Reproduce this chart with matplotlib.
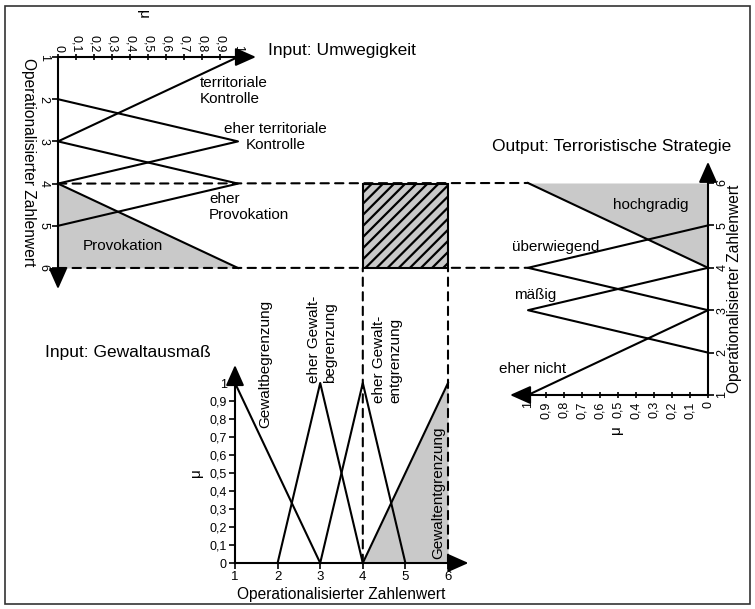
import matplotlib
matplotlib.use("Agg")
import matplotlib.pyplot as plt
from matplotlib.patches import ConnectionPatch, Rectangle
from matplotlib.transforms import blended_transform_factory

plt.rcParams["font.family"] = ["Liberation Sans", "DejaVu Sans"]
plt.rcParams["hatch.linewidth"] = 1.6

# ---------- data ----------
levels = [1, 2, 3, 4, 5, 6]
level_labels = ["1", "2", "3", "4", "5", "6"]
mu_ticks = [0, 0.1, 0.2, 0.3, 0.4, 0.5, 0.6, 0.7, 0.8, 0.9, 1]
mu_labels = ["0", "0,1", "0,2", "0,3", "0,4", "0,5", "0,6", "0,7", "0,8", "0,9", "1"]

# Input: Umwegigkeit (value points, membership points)
umweg_names = ["territoriale\nKontrolle", "eher territoriale\nKontrolle",
               "eher\nProvokation", "Provokation"]
umweg_x = [[1, 3], [2, 3, 4], [3, 4, 5], [4, 6]]
umweg_mu = [[1, 0], [0, 1, 0], [0, 1, 0], [0, 1]]

# Input: Gewaltausmass
gewalt_names = ["Gewaltbegrenzung", "eher Gewalt-\nbegrenzung",
                "eher Gewalt-\nentgrenzung", "Gewaltentgrenzung"]
gewalt_x = [[1, 3], [2, 3, 4], [3, 4, 5], [4, 6]]
gewalt_mu = [[1, 0], [0, 1, 0], [0, 1, 0], [0, 1]]

# Output: Terroristische Strategie
strat_names = ["eher nicht", "mäßig", "überwiegend", "hochgradig"]
strat_x = [[1, 3], [2, 3, 4], [3, 4, 5], [4, 6]]
strat_mu = [[1, 0], [0, 1, 0], [0, 1, 0], [0, 1]]

# activated ranges
umweg_range = [4, 6]
gewalt_range = [4, 6]
strat_range = [4, 6]

GRAY = "#c9c9c9"
LW = 1.5
DASH = (0, (4, 3))
W, H = 755, 609


def px_rect(x0, y0, x1, y1):
    return [x0 / W, 1 - y1 / H, (x1 - x0) / W, (y1 - y0) / H]


def px_text(x, y, s, **kw):
    fig.text(x / W, 1 - y / H, s, **kw)


def arrow(ax, start, end):
    ax.annotate("", xy=end, xytext=start, xycoords="data",
                arrowprops=dict(arrowstyle="-|>,head_length=0.9,head_width=0.4",
                                color="k", lw=LW, shrinkA=0, shrinkB=0,
                                mutation_scale=14),
                annotation_clip=False)


def base_axes(rect, show):
    ax = fig.add_axes(rect)
    ax.patch.set_visible(False)
    for name, sp in ax.spines.items():
        sp.set_visible(name in show)
        sp.set_linewidth(LW)
    return ax


fig = plt.figure(figsize=(W / 100, H / 100), dpi=100)

# ---------- top left: Umwegigkeit ----------
ax_u = base_axes(px_rect(58, 57, 238, 268), ("top", "left"))
ax_u.set_xlim(0, 1)
ax_u.set_ylim(6, 1)
ax_u.xaxis.tick_top()
ax_u.set_xticks(mu_ticks, mu_labels, rotation=-90, fontsize=9)
ax_u.set_yticks(levels, level_labels, rotation=-90, fontsize=9, va="center")
ax_u.tick_params(axis="x", direction="inout", length=5, width=1.2, pad=1)
ax_u.tick_params(axis="y", direction="out", length=4, width=1.2, pad=2)
ax_u.set_ylabel("Operationalisierter Zahlenwert", rotation=-90, fontsize=11.2,
                va="center")
ax_u.yaxis.set_label_coords(-0.165, 0.5)
ax_u.text(0.47, 1.2, "μ", rotation=-90, fontsize=11, ha="center", va="center",
          transform=ax_u.transAxes)
arrow(ax_u, (1, 1), (1.1, 1))
arrow(ax_u, (0, 6), (0, 6.5))
ax_u.fill_betweenx(umweg_x[3], 0, umweg_mu[3], color=GRAY, lw=0)
for xs, ms in zip(umweg_x, umweg_mu):
    ax_u.plot(ms, xs, color="k", lw=LW, clip_on=False)
ax_u.text(0.79, 1.8, umweg_names[0], fontsize=11, ha="left", va="center")
ax_u.text(1.21, 2.9, umweg_names[1], fontsize=11, ha="center", va="center",
          multialignment="center")
ax_u.text(0.84, 4.55, umweg_names[2], fontsize=11, ha="left", va="center")
ax_u.text(0.14, 5.48, umweg_names[3], fontsize=11, ha="left", va="center")

# ---------- right: Terroristische Strategie ----------
ax_s = base_axes(px_rect(528, 183, 708, 395), ("bottom", "right"))
ax_s.set_xlim(1, 0)
ax_s.set_ylim(1, 6)
ax_s.yaxis.tick_right()
ax_s.set_xticks(mu_ticks, mu_labels, rotation=90, fontsize=9)
ax_s.set_yticks(levels, level_labels, rotation=90, fontsize=9, va="center")
ax_s.tick_params(axis="x", direction="inout", length=5, width=1.2, pad=2)
ax_s.tick_params(axis="y", direction="out", length=4, width=1.2, pad=2)
ax_s.yaxis.set_label_position("right")
ax_s.set_ylabel("Operationalisierter Zahlenwert", rotation=90, fontsize=11.2,
                va="center")
ax_s.yaxis.set_label_coords(1.15, 0.5)
ax_s.text(0.49, -0.165, "μ", rotation=90, fontsize=11, ha="center", va="center",
          transform=ax_s.transAxes)
arrow(ax_s, (0, 6), (0, 6.5))
arrow(ax_s, (1, 1), (1.1, 1))
ax_s.fill_betweenx(strat_x[3], 0, strat_mu[3], color=GRAY, lw=0)
for xs, ms in zip(strat_x, strat_mu):
    ax_s.plot(ms, xs, color="k", lw=LW, clip_on=False)
ax_s.text(1.16, 1.62, strat_names[0], fontsize=11, ha="left", va="center")
ax_s.text(1.08, 3.35, strat_names[1], fontsize=11, ha="left", va="center")
ax_s.text(1.09, 4.5, strat_names[2], fontsize=11, ha="left", va="center")
ax_s.text(0.53, 5.48, strat_names[3], fontsize=11, ha="left", va="center")

# ---------- bottom: Gewaltausmass ----------
ax_g = base_axes(px_rect(235, 383, 448, 563), ("bottom", "left"))
ax_g.set_xlim(1, 6)
ax_g.set_ylim(0, 1)
ax_g.set_xticks(levels, level_labels, fontsize=9.5)
ax_g.set_yticks(mu_ticks, mu_labels, fontsize=9)
ax_g.tick_params(axis="both", direction="out", length=4, width=1.2, pad=2)
ax_g.set_xlabel("Operationalisierter Zahlenwert", fontsize=11.2)
ax_g.xaxis.set_label_coords(0.5, -0.135)
ax_g.set_ylabel("μ", rotation=90, fontsize=11)
ax_g.yaxis.set_label_coords(-0.15, 0.5)
arrow(ax_g, (6, 0), (6.48, 0))
arrow(ax_g, (1, 1), (1, 1.1))
ax_g.fill_between(gewalt_x[3], 0, gewalt_mu[3], color=GRAY, lw=0)
for xs, ms in zip(gewalt_x, gewalt_mu):
    ax_g.plot(xs, ms, color="k", lw=LW, clip_on=False)
ax_g.text(1.7, 0.75, gewalt_names[0], rotation=90, fontsize=11,
          ha="center", va="bottom")
ax_g.text(3.04, 1.0, gewalt_names[1], rotation=90, fontsize=11,
          ha="center", va="bottom", multialignment="left")
ax_g.text(4.57, 0.89, gewalt_names[2], rotation=90, fontsize=11,
          ha="center", va="bottom", multialignment="left")
ax_g.text(5.77, 0.02, gewalt_names[3], rotation=90, fontsize=11,
          ha="center", va="bottom")

# ---------- inference: dashed projections and hatched result ----------
blend = blended_transform_factory(ax_g.transData, ax_u.transData)
for vu, vs in zip(umweg_range, strat_range[::-1]):
    fig.add_artist(ConnectionPatch(xyA=(0, vu), coordsA=ax_u.transData,
                                   xyB=(1, vs), coordsB=ax_s.transData,
                                   color="k", lw=LW, linestyle=DASH))
for g in gewalt_range:
    fig.add_artist(ConnectionPatch(xyA=(g, 0), coordsA=ax_g.transData,
                                   xyB=(g, umweg_range[1]), coordsB=blend,
                                   color="k", lw=LW, linestyle=DASH))
fig.add_artist(Rectangle((gewalt_range[0], umweg_range[0]),
                         gewalt_range[1] - gewalt_range[0],
                         umweg_range[1] - umweg_range[0],
                         transform=blend, facecolor=GRAY, edgecolor="k",
                         hatch="///", lw=LW, zorder=5))

# ---------- titles and frame ----------
px_text(268, 51, "Input: Umwegigkeit", fontsize=12.5, ha="left", va="center")
px_text(492, 147, "Output: Terroristische Strategie", fontsize=12.5,
        ha="left", va="center")
px_text(45, 352, "Input: Gewaltausmaß", fontsize=12.5, ha="left", va="center")
fig.add_artist(Rectangle((5 / W, 1 - 604 / H), 745 / W, 598 / H,
                         transform=fig.transFigure, fill=False, lw=1.2,
                         edgecolor="#333333"))

fig.savefig("out.png", dpi=100)
